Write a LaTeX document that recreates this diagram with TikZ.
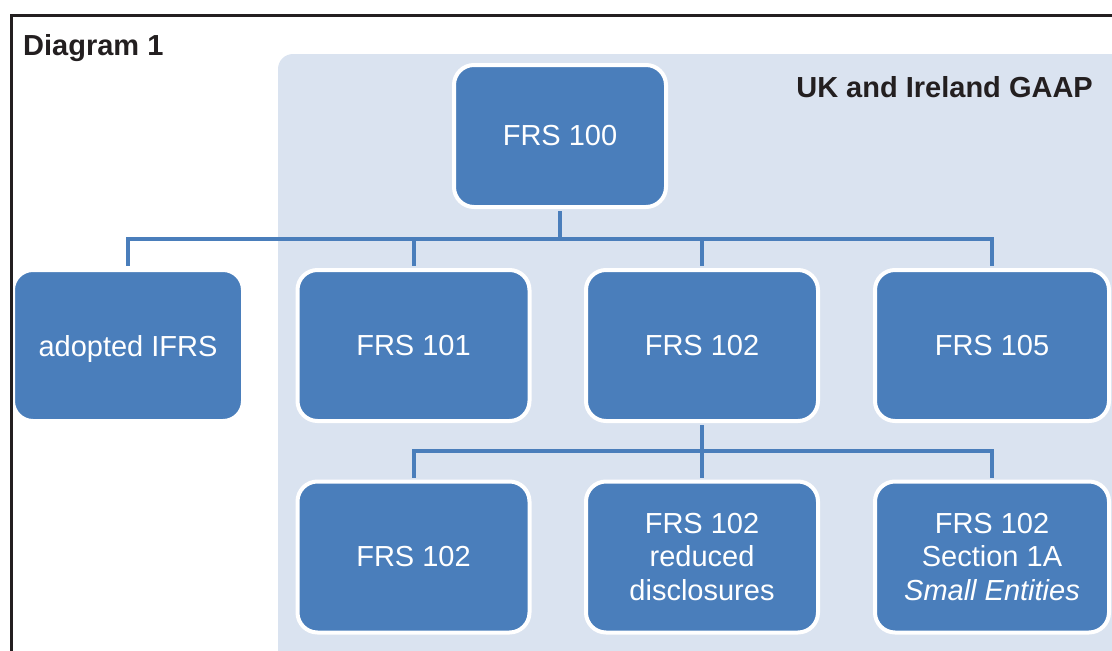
\documentclass[tikz,border=0pt]{standalone}
\usepackage{fontspec}
\setmainfont{Liberation Sans}
\usetikzlibrary{calc}
\definecolor{boxblue}{HTML}{4A7EBB}
\definecolor{gaapbg}{HTML}{DAE3F0}
\definecolor{framegray}{HTML}{231F20}
\tikzset{
  stdbox/.style={rectangle,rounded corners=20pt,fill=boxblue,draw=white,line width=4pt,
    text=white,align=center,minimum width=232pt,minimum height=151pt,inner sep=0pt,
    font=\fontsize{29}{33.5}\selectfont},
  topbox/.style={stdbox,minimum width=212pt,minimum height=142pt},
  conn/.style={draw=boxblue,line width=4pt,shorten <=2pt,shorten >=2pt},
  frame/.style={draw=framegray,line width=3pt},
  heading/.style={font=\fontsize{29}{33.5}\selectfont\bfseries,text=framegray,inner sep=0pt}
}

\begin{document}
\begin{tikzpicture}[x=1pt,y=-1pt]
\useasboundingbox (0,0) rectangle (1112,651);
\clip (0,0) rectangle (1112,651);
% shaded GAAP area
\fill[gaapbg,rounded corners=15pt] (278,54) rectangle (1140,680);
\node[heading,anchor=base west] (title) at (23,55) {Diagram 1};
\node[heading,anchor=base east] (gaap) at (1093,97) {UK and Ireland GAAP};

\node[topbox] (frs100) at (560,136) {FRS 100};
\node[stdbox,minimum width=230pt,text depth=0pt] (ifrs) at (128,345.5) {adopted IFRS};
\node[stdbox] (frs101) at (413.5,345.5) {FRS 101};
\node[stdbox] (frs102) at (702,345.5) {FRS 102};
\node[stdbox,minimum width=234pt] (frs105) at (992,345.5) {FRS 105};

\node[stdbox] (full) at (413.5,557) {FRS 102};
\node[stdbox] (reduced) at (702,557) {FRS 102\\reduced\\disclosures};
\node[stdbox,minimum width=234pt] (small) at (992,557) {FRS 102\\Section 1A\\\itshape Small Entities};

\coordinate (busA) at (560,239);
\coordinate (busB) at (702,451);
\foreach \n in {ifrs,frs101,frs102,frs105}
  \draw[conn] (frs100.south) -- (busA) -| (\n.north);
\foreach \n in {full,reduced,small}
  \draw[conn] (frs102.south) -- (busB) -| (\n.north);

% outer frame
\draw[frame] (11,680) -- (11,15) -- (1140,15);
\end{tikzpicture}
\end{document}
